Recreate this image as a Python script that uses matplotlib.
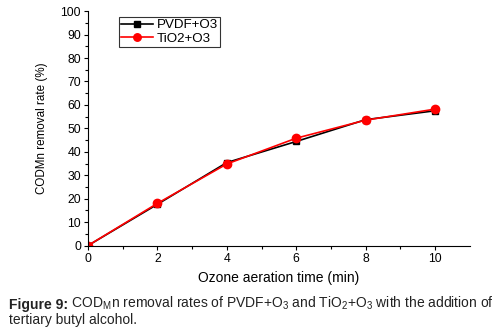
import matplotlib.pyplot as plt

plt.rcParams['font.family'] = ['Liberation Sans', 'DejaVu Sans']
plt.rcParams['mathtext.fontset'] = 'custom'
plt.rcParams['mathtext.rm'] = 'Liberation Sans'

# data
time_min = [0, 2, 4, 6, 8, 10]
pvdf_o3 = [0, 17.6, 35.4, 44.4, 53.7, 57.5]
tio2_o3 = [0, 18.0, 34.8, 45.8, 53.5, 58.2]
x_ticks = [0, 2, 4, 6, 8, 10]
y_ticks = list(range(0, 101, 10))

fig = plt.figure(figsize=(5.01, 3.27), dpi=100)
ax = fig.add_axes([0.1756, 0.249, 0.762, 0.717])

ax.plot(time_min, pvdf_o3, color='black', marker='s', markersize=5, lw=1.2, label='PVDF+O3')
ax.plot(time_min, tio2_o3, color='red', marker='o', markersize=6, lw=1.2, label='TiO2+O3')

ax.set_xlim(0, 11)
ax.set_ylim(0, 100)
ax.set_xticks(x_ticks)
ax.set_xticks(range(1, 11, 2), minor=True)
ax.set_yticks(y_ticks)
ax.set_yticks(range(5, 100, 10), minor=True)
ax.spines['top'].set_visible(False)
ax.spines['right'].set_visible(False)
ax.tick_params(labelsize=8.8, length=3, width=0.8, pad=2)
ax.tick_params(which='minor', length=2, width=0.8)

ax.set_xlabel('Ozone aeration time (min)', fontsize=10, labelpad=5)
ax.set_ylabel('CODMn removal rate (%)', fontsize=8.4, labelpad=9)

leg = ax.legend(loc='upper left', bbox_to_anchor=(0.065, 1.0), fontsize=9.6, frameon=True,
                fancybox=False, edgecolor='black', handlelength=2.4, borderpad=0.15,
                labelspacing=0.1, handletextpad=0.3, borderaxespad=0.45,
                markerscale=0.9)
leg.get_frame().set_linewidth(0.8)

t1 = fig.text(0.018, 0.055, 'Figure 9:', fontsize=10, fontweight='bold', color='#222222')
ax.annotate(r' COD$_\mathrm{M}$n removal rates of PVDF+O$_3$ and TiO$_2$+O$_3$ with the addition of',
            xy=(1, 0), xycoords=t1, fontsize=10, color='#222222', va='bottom')
fig.text(0.018, 0.01, 'tertiary butyl alcohol.', fontsize=10, color='#222222')

fig.savefig('out.png', dpi=100)
